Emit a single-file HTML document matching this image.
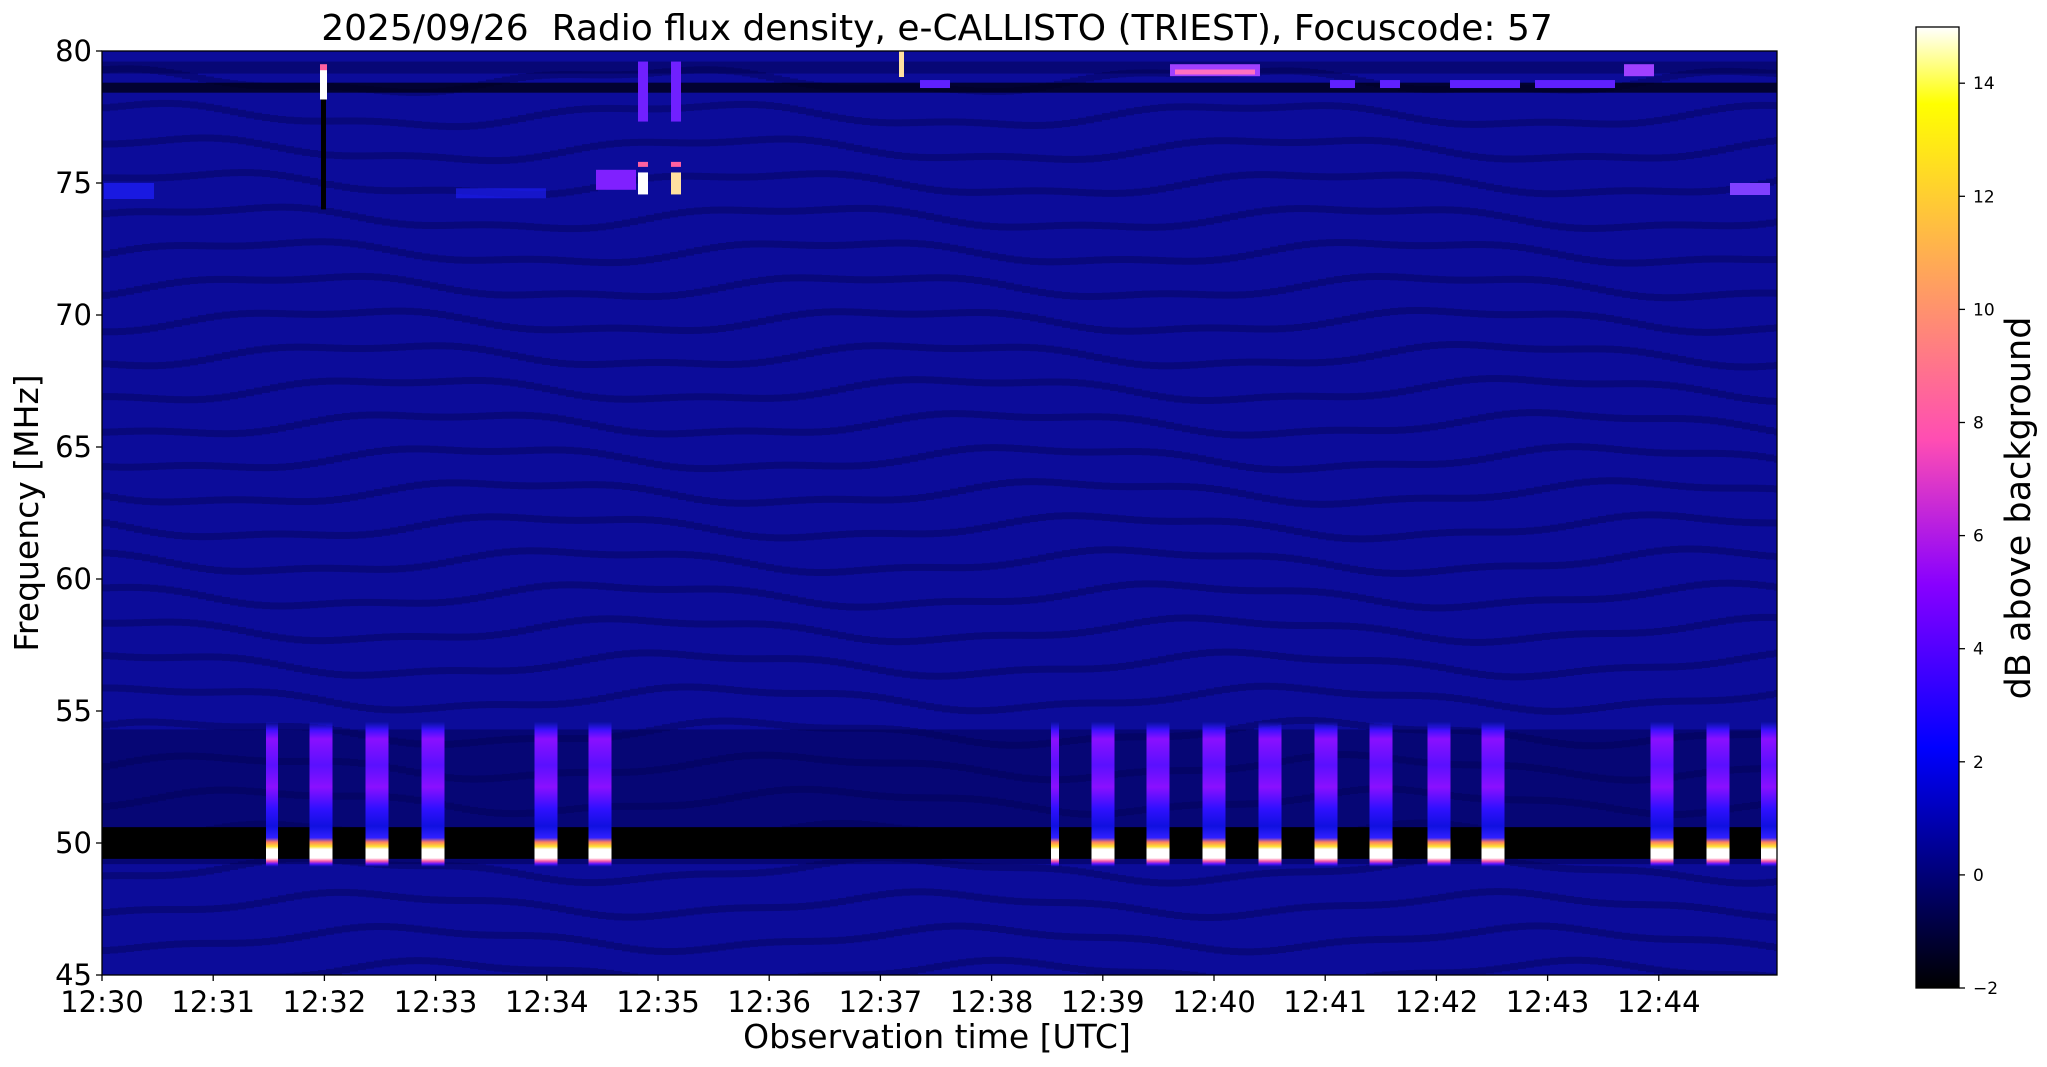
<!DOCTYPE html>
<html><head><meta charset="utf-8"><style>
body{margin:0;background:#fff;width:2047px;height:1067px;overflow:hidden}
svg{display:block}
text{font-family:"DejaVu Sans","Liberation Sans",sans-serif;fill:#000}
</style></head><body>
<svg id="s" width="2047" height="1067" viewBox="0 0 2047 1067">
<defs>
<linearGradient id="cb" x1="0" y1="1" x2="0" y2="0">
<stop offset="0" stop-color="#000"/>
<stop offset="0.25" stop-color="#0000ff"/>
<stop offset="0.42" stop-color="#8800ff"/>
<stop offset="0.57" stop-color="#ff4db3"/>
<stop offset="0.75" stop-color="#ffa857"/>
<stop offset="0.92" stop-color="#ffff00"/>
<stop offset="1" stop-color="#fff"/>
</linearGradient>
<linearGradient id="burst" x1="0" y1="0" x2="0" y2="1">
<stop offset="0" stop-color="#2020ff" stop-opacity="0"/>
<stop offset="0.06" stop-color="#4010ff"/>
<stop offset="0.12" stop-color="#8a10ff"/>
<stop offset="0.3" stop-color="#5a10ff"/>
<stop offset="0.45" stop-color="#8a10ff"/>
<stop offset="0.6" stop-color="#3010ff"/>
<stop offset="0.72" stop-color="#1010e0"/>
<stop offset="0.8" stop-color="#3020ff"/>
<stop offset="0.83" stop-color="#ff8060"/>
<stop offset="0.86" stop-color="#ffe030"/>
<stop offset="0.88" stop-color="#fff"/>
<stop offset="0.94" stop-color="#fff"/>
<stop offset="0.96" stop-color="#ff60a0"/>
<stop offset="0.98" stop-color="#6010ff"/>
<stop offset="1" stop-color="#2020ff" stop-opacity="0"/>
</linearGradient>
<clipPath id="pc"><rect x="102" y="51" width="1675" height="924"/></clipPath>
</defs>
<g clip-path="url(#pc)" id="plot">
<rect x="102" y="51" width="1675" height="924" fill="#0c0c9a"/>
</g>
<rect x="102" y="51" width="1675" height="924" fill="none" stroke="#000" stroke-width="1.3"/>
<g id="ticks"></g>
<text x="937" y="40" font-size="36" text-anchor="middle">2025/09/26&#160; Radio flux density, e-CALLISTO (TRIEST), Focuscode: 57</text>
<text x="937" y="1048" font-size="33" text-anchor="middle">Observation time [UTC]</text>
<text transform="translate(38,513) rotate(-90)" font-size="33" text-anchor="middle">Frequency [MHz]</text>
<rect x="1916" y="27" width="43" height="961" fill="url(#cb)" stroke="#000" stroke-width="1.3"/>
<text transform="translate(2030,508) rotate(-90)" font-size="35" text-anchor="middle">dB above background</text>
</svg>
<script>
const NS="http://www.w3.org/2000/svg";
function el(p,t,a){const e=document.createElementNS(NS,t);for(const k in a)e.setAttribute(k,a[k]);p.appendChild(e);return e}
const plot=document.getElementById('plot'),tk=document.getElementById('ticks');
const yf=f=>51+(80-f)*26.4;
for(let f=79;f>45;f-=1.3){
  for(let x=102;x<1777;x+=8){
    const off=Math.sin((x-102)/90+f*0.3)*10+Math.sin((x-102)/31+f)*3;
    el(plot,'rect',{x:x,y:yf(f)+off,width:8,height:7,fill:'#000030',opacity:0.28});
  }
}
el(plot,'rect',{x:102,y:yf(78.8),width:1675,height:10,fill:'#000018',opacity:0.8});
el(plot,'rect',{x:102,y:yf(79.6),width:1675,height:12,fill:'#000040',opacity:0.4});
el(plot,'rect',{x:102,y:yf(54.3),width:1675,height:yf(49.2)-yf(54.3),fill:'#000050',opacity:0.5});
el(plot,'rect',{x:102,y:yf(50.6),width:1675,height:yf(49.4)-yf(50.6),fill:'#000000'});
const bs=[[272,12],[321,23],[377,23],[433,23],[546,23],[600,23],[1055,8],[1103,23],[1158,23],[1214,23],[1270,23],[1326,23],[1381,23],[1439,23],[1493,23],[1662,23],[1718,23],[1769,16]];
bs.forEach(([c,w])=>el(plot,'rect',{x:c-w/2,y:yf(54.6),width:w,height:yf(49.1)-yf(54.6),fill:'url(#burst)'}));
el(plot,'rect',{x:321,y:yf(78.2),width:5,height:yf(74)-yf(78.2),fill:'#000'});
el(plot,'rect',{x:320,y:yf(79.3),width:7,height:30,fill:'#fff'});
el(plot,'rect',{x:320,y:yf(79.5),width:7,height:6,fill:'#ff60a0'});
[[643,'#ffffff'],[676,'#ffe0a0']].forEach(([x,c])=>{
 el(plot,'rect',{x:x-5,y:yf(79.6),width:10,height:60,fill:'#7020ff'});
 el(plot,'rect',{x:x-5,y:yf(75.4),width:10,height:22,fill:c});
 el(plot,'rect',{x:x-5,y:yf(75.8),width:10,height:5,fill:'#ff60a0'});
});
el(plot,'rect',{x:596,y:yf(75.5),width:40,height:20,fill:'#8020ff'});
el(plot,'rect',{x:104,y:yf(75),width:50,height:16,fill:'#2020ff',opacity:0.7});
el(plot,'rect',{x:456,y:yf(74.8),width:90,height:10,fill:'#2020ff',opacity:0.6});
el(plot,'rect',{x:1170,y:yf(79.5),width:90,height:12,fill:'#a040ff'});
el(plot,'rect',{x:1175,y:yf(79.3),width:80,height:5,fill:'#ff70c0'});
el(plot,'rect',{x:1624,y:yf(79.5),width:30,height:12,fill:'#a040ff'});
el(plot,'rect',{x:899,y:yf(80),width:5,height:26,fill:'#ffe0a0'});
[[920,30],[1330,25],[1450,70],[1535,80],[1380,20]].forEach(([x,w])=>el(plot,'rect',{x:x,y:yf(78.9),width:w,height:8,fill:'#6020ff'}));
el(plot,'rect',{x:1730,y:yf(75),width:40,height:12,fill:'#8040ff'});
[45,50,55,60,65,70,75,80].forEach(f=>{const y=yf(f);
 el(tk,'line',{x1:96,x2:102,y1:y,y2:y,stroke:'#000','stroke-width':1.3});
 const t=el(tk,'text',{x:92,y:y+10,'font-size':29,'text-anchor':'end'});t.textContent=f;});
for(let m=0;m<15;m++){const x=102+m*111.2;
 el(tk,'line',{x1:x,x2:x,y1:975,y2:981,stroke:'#000','stroke-width':1.3});
 const t=el(tk,'text',{x:x,y:1012,'font-size':29,'text-anchor':'middle'});t.textContent='12:'+(30+m);}
for(let v=-2;v<=14;v+=2){const y=988-(v+2)*56.55;
 el(tk,'line',{x1:1959,x2:1965,y1:y,y2:y,stroke:'#000','stroke-width':1.3});
 const t=el(tk,'text',{x:1973,y:y+6,'font-size':17});t.textContent=v<0?'\u2212'+(-v):v;}
</script>
</body></html>
